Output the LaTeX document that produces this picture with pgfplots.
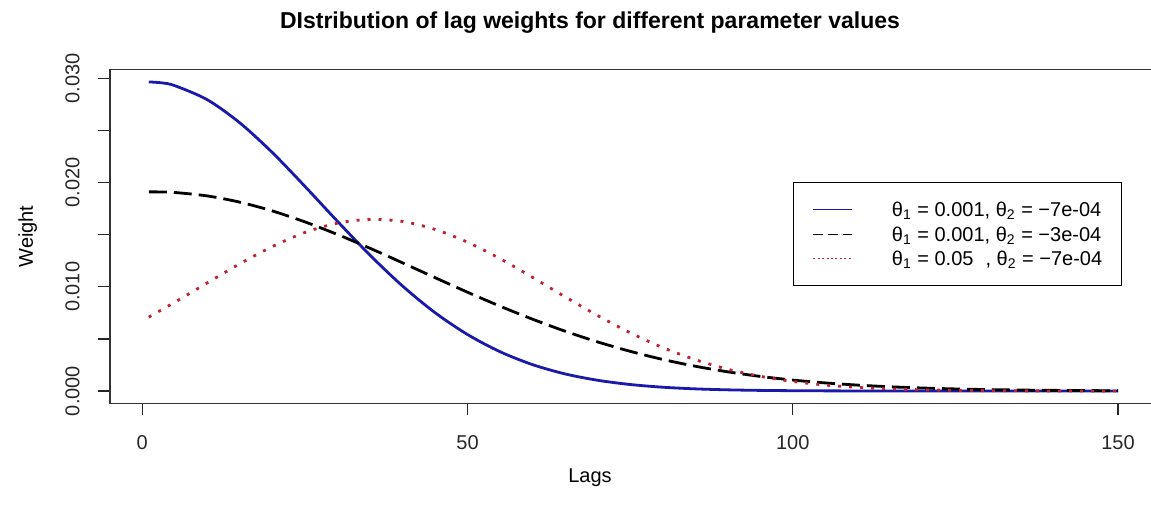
\documentclass[border=0pt]{standalone}
\usepackage{fontspec}
\setmainfont{Liberation Sans}
\usepackage{pgfplots}
\pgfplotsset{compat=1.18}
\definecolor{lineblue}{RGB}{25,25,170}
\definecolor{linered}{RGB}{190,35,50}
\begin{document}
\begin{tikzpicture}
\useasboundingbox (0,0) rectangle (575.5pt,255.5pt);
\begin{axis}[
  at={(55pt,53.8pt)}, anchor=south west,
  scale only axis, width=523.4pt, height=167pt,
  xmin=-4.96, xmax=155.96, ymin=-0.00119, ymax=0.03086,
  xtick={0,50,100,150},
  ytick={0,0.005,0.01,0.015,0.02,0.025,0.03},
  yticklabels={0.000,,0.010,,0.020,,0.030},
  scaled y ticks=false,
  tick align=outside, major tick length=6pt,
  xtick pos=bottom, ytick pos=left,
  tick style={black!85, line width=0.7pt},
  axis line style={black!80, line width=0.8pt},
  /pgf/number format/assume math mode=true,
  ticklabel style={font=\fontsize{10}{12}\selectfont, text=black!85},
  xticklabel style={anchor=north, inner sep=0pt, yshift=-10pt},
  yticklabel style={xshift=-9pt, rotate=90, anchor=south, inner sep=0pt},
  legend image code/.code={\draw[#1] (0pt,0pt) -- (19.5pt,0pt);},
  legend cell align=left,
  legend style={at={(0.6525,0.6629)}, anchor=north west, draw=black, line width=0.7pt,
    inner xsep=9.5pt, inner ysep=8.9pt, row sep=3.05pt,
    font=\fontsize{10}{12}\selectfont,
    nodes={inner sep=0pt, text height=8.2pt, text depth=1pt},
    /tikz/column 1/.style={column sep=19.5pt}},
]
\addplot[forget plot, lineblue, line width=1.4pt, smooth] coordinates {
(1,0.02966)(3,0.02957)(5,0.02930)(10,0.02795)(15,0.02573)(20,0.02288)(25,0.01964)
(30,0.01629)(35,0.01304)(40,0.01008)(45,0.00752)(50,0.00542)(55,0.00377)(60,0.00253)
(65,0.00164)(70,0.00103)(75,0.000624)(80,0.000364)(85,0.000206)(90,0.000112)
(95,5.88e-5)(100,2.99e-5)(105,1.45e-5)(110,6.9e-6)(115,3.1e-6)(120,1.4e-6)
(130,2e-7)(140,2e-8)(150,0)};
\addplot[forget plot, black, line width=1.4pt, smooth, dash pattern=on 9pt off 3.5pt] coordinates {
(1,0.01911)(3,0.01910)(5,0.01905)(10,0.01872)(15,0.01812)(20,0.01728)(25,0.01623)
(30,0.01502)(35,0.01370)(40,0.01230)(45,0.01088)(50,0.00948)(55,0.00814)(60,0.00689)
(65,0.00574)(70,0.00471)(75,0.00381)(80,0.00303)(85,0.00238)(90,0.00184)(95,0.00140)
(100,0.00105)(105,0.000776)(110,0.000565)(115,0.000405)(120,0.000286)(125,0.000199)
(130,0.000137)(135,9.22e-5)(140,6.13e-5)(145,4.02e-5)(150,2.6e-5)};
\addplot[forget plot, linered, line width=1.4pt, smooth, dash pattern=on 1.5pt off 4pt] coordinates {
(1,0.00709)(5,0.00852)(10,0.01038)(15,0.01221)(20,0.01386)(25,0.01521)(30,0.01611)
(35,0.01647)(40,0.01627)(45,0.01551)(50,0.01428)(55,0.01270)(60,0.01090)(65,0.00904)
(70,0.00724)(75,0.00559)(80,0.00417)(85,0.00301)(90,0.00209)(95,0.00141)(100,0.000913)
(105,0.000572)(110,0.000346)(115,0.000202)(120,0.000114)(125,6.21e-5)(130,3.27e-5)
(135,1.66e-5)(140,8.1e-6)(145,3.8e-6)(150,1.7e-6)};
\addlegendimage{lineblue, line width=0.6pt}
\addlegendimage{black, line width=0.6pt, dash pattern=on 5pt off 2.5pt}
\addlegendimage{linered, line width=0.6pt, dash pattern=on 1pt off 1.2pt}
\legend{{θ\textsubscript{1} = 0.001, θ\textsubscript{2} = −7e-04},
        {θ\textsubscript{1} = 0.001, θ\textsubscript{2} = −3e-04},
        {θ\textsubscript{1} = 0.05\hspace{0.6em}, θ\textsubscript{2} = −7e-04}}
\end{axis}
\node[anchor=base, font=\bfseries\fontsize{11.5}{13}\selectfont] at (295pt,241.5pt) {DIstribution of lag weights for different parameter values};
\node[anchor=base, font=\fontsize{10}{12}\selectfont] at (295pt,14.5pt) {Lags};
\node[rotate=90, anchor=base, font=\fontsize{10}{12}\selectfont] at (16.5pt,137.25pt) {Weight};
\end{tikzpicture}
\end{document}
